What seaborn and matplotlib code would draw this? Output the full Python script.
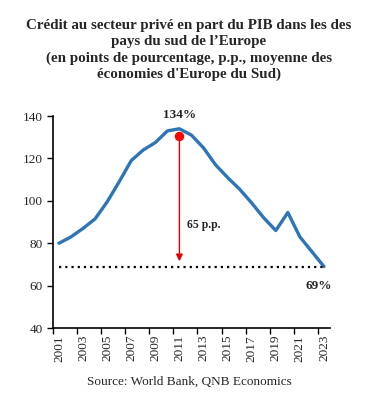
import numpy as np
import pandas as pd
import seaborn as sns
import matplotlib.pyplot as plt

years = list(range(2001, 2024))
credit = [80, 83, 87, 91.5, 99.5, 109, 119, 124, 127.5, 133, 134, 131, 125,
          117, 111, 105.5, 99, 92, 86, 94.5, 83, 76, 69]
peak_year = 2011
peak_label = '134%'
last_label = '69%'
gap_label = '65 p.p.'
last_value = 69

df = pd.DataFrame({'year': years, 'credit': credit})

sns.set_style('ticks')
plt.rcParams['font.family'] = ['Liberation Serif', 'DejaVu Serif']

fig = plt.figure(figsize=(3.78, 4.03), dpi=100)
ax = fig.add_axes([0.140, 0.186, 0.733, 0.526])

sns.lineplot(data=df, x='year', y='credit', ax=ax, color='#2E75B6', linewidth=2.4)

# horizontal dotted level of 2023
ax.plot([2001, 2023], [last_value, last_value], color='black', linestyle=(0, (1, 1.8)),
        linewidth=1.6)

# red marker + arrow
ax.plot([peak_year], [130.5], 'o', color='red', markersize=5.8, zorder=5)
ax.annotate('', xy=(peak_year, 71.5), xytext=(peak_year, 130.5),
            arrowprops=dict(arrowstyle='-|>', color='#e00000', lw=1.0,
                            mutation_scale=10, shrinkA=0, shrinkB=0))

ax.text(peak_year, 140.5, peak_label, ha='center', va='center', fontsize=9.5,
        fontweight='bold')
ax.text(peak_year + 0.6, 88.5, gap_label, ha='left', va='center', fontsize=8.5,
        fontweight='bold')
ax.text(2023.7, 60, last_label, ha='right', va='center', fontsize=9.5,
        fontweight='bold')

ax.set_xlim(2000.5, 2023.5)
ax.set_ylim(40, 140)
ax.set_yticks(range(40, 141, 20))
ax.set_xticks(range(2001, 2024, 2))
ax.set_xticklabels([str(y) for y in range(2001, 2024, 2)], rotation=90)
ax.set_xticks(np.arange(2000.5, 2023, 2), minor=True)
ax.tick_params(axis='x', which='major', length=0, pad=5, labelsize=9.5)
ax.tick_params(axis='x', which='minor', length=4, width=1, color='black')
ax.tick_params(axis='y', length=4, width=1, labelsize=9.5, color='black')
ax.set_xlabel('')
ax.set_ylabel('')
for s in ['top', 'right']:
    ax.spines[s].set_visible(False)
for s in ['left', 'bottom']:
    ax.spines[s].set_color('black')
    ax.spines[s].set_linewidth(1.2)

fig.text(0.5, 0.953, "Crédit au secteur privé en part du PIB dans les des\n"
         "pays du sud de l\u2019Europe\n"
         "(en points de pourcentage, p.p., moyenne des\n"
         "économies d'Europe du Sud)",
         ha='center', va='top', fontsize=10.8, fontweight='bold', linespacing=1.3)
fig.text(0.5, 0.052, 'Source: World Bank, QNB Economics', ha='center', va='center',
         fontsize=9.5)

fig.savefig('out.png', dpi=100)
